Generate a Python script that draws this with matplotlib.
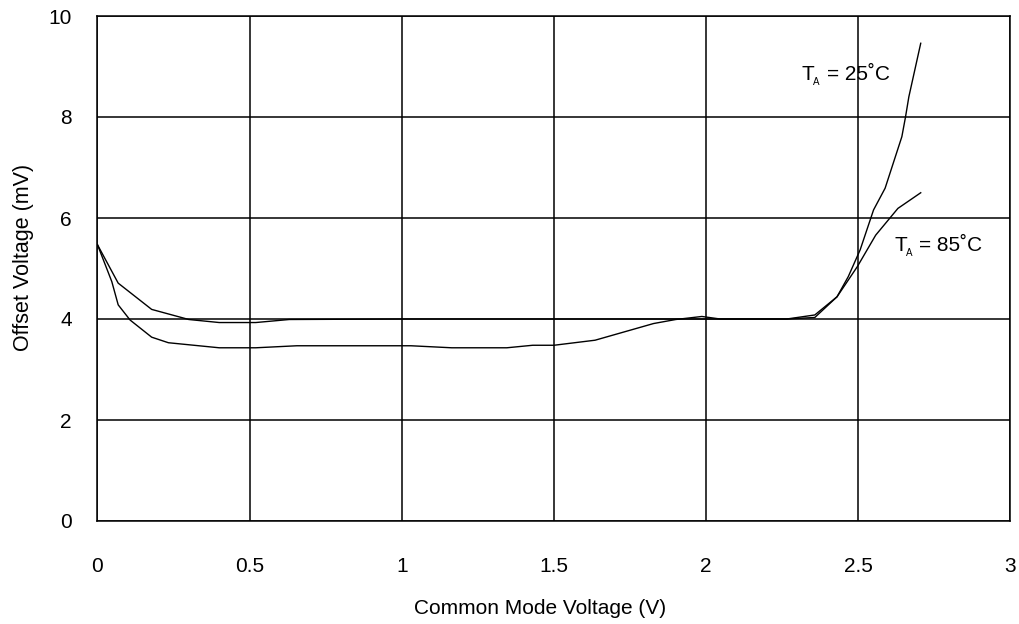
import matplotlib
matplotlib.use("Agg")
import matplotlib.pyplot as plt

plt.rcParams['font.family'] = ['Liberation Sans', 'DejaVu Sans']

# T_A = 25 C (lower at left, steep rise at right)
v25 = [0.0, 0.047, 0.068, 0.107, 0.178, 0.233, 0.40, 0.52, 0.655, 1.03, 1.164, 1.345,
       1.43, 1.50, 1.635, 1.827, 1.90, 1.986, 2.046, 2.07, 2.265, 2.357, 2.43, 2.467,
       2.506, 2.55, 2.588, 2.643, 2.655, 2.666, 2.705]
mv25 = [5.47, 4.74, 4.28, 3.98, 3.64, 3.53, 3.43, 3.43, 3.47, 3.47, 3.43, 3.43,
        3.48, 3.48, 3.58, 3.91, 3.99, 4.05, 4.0, 4.0, 4.0, 4.03, 4.44, 4.84,
        5.37, 6.16, 6.59, 7.61, 8.0, 8.40, 9.46]

# T_A = 85 C
v85 = [0.0, 0.068, 0.178, 0.30, 0.40, 0.52, 0.63, 1.0, 1.5, 2.0, 2.265, 2.357, 2.43,
       2.497, 2.557, 2.63, 2.705]
mv85 = [5.47, 4.71, 4.19, 3.99, 3.93, 3.93, 3.99, 4.0, 4.0, 4.0, 4.0, 4.08, 4.44,
        5.04, 5.66, 6.19, 6.50]

xticks = [0, 0.5, 1, 1.5, 2, 2.5, 3]
xticklabels = ['0', '0.5', '1', '1.5', '2', '2.5', '3']
yticks = [0, 2, 4, 6, 8, 10]

labels = [('25˚C', 2.314, 8.73), ('85˚C', 2.618, 5.35)]

FS = 15
fig = plt.figure(figsize=(10.2, 6.24), dpi=100)
ax = fig.add_axes([97.5/1020, 1 - 521/624, (1010.5-97.5)/1020, (521-16)/624])

ax.plot(v25, mv25, color='black', lw=1.0)
ax.plot(v85, mv85, color='black', lw=1.0)

ax.set_xlim(0, 3)
ax.set_ylim(0, 10)
ax.set_xticks(xticks)
ax.set_xticklabels(xticklabels)
ax.set_yticks(yticks)
ax.tick_params(length=0, labelsize=FS)
ax.tick_params(axis='x', pad=26)
ax.tick_params(axis='y', pad=18.6)
ax.grid(True, color='black', lw=1.1)
for s in ax.spines.values():
    s.set_color('black')
    s.set_linewidth(1.1)

ax.set_xlabel('Common Mode Voltage (V)', fontsize=FS)
ax.xaxis.set_label_coords(0.485, -0.154)
ax.set_ylabel('Offset Voltage (mV)', fontsize=15.5)
ax.yaxis.set_label_coords(-0.070, 0.522)

for txt, x, y in labels:
    ax.text(x, y, 'T', fontsize=FS, ha='left', va='baseline')
    ax.annotate('A', xy=(x, y), xycoords='data', xytext=(11.6 * 0.72, -5 * 0.72),
                textcoords='offset points', fontsize=7, ha='left', va='baseline')
    ax.annotate('= ' + txt, xy=(x, y), xycoords='data', xytext=(25 * 0.72, 0),
                textcoords='offset points', fontsize=FS, ha='left', va='baseline')

fig.savefig('out.png', dpi=100)
